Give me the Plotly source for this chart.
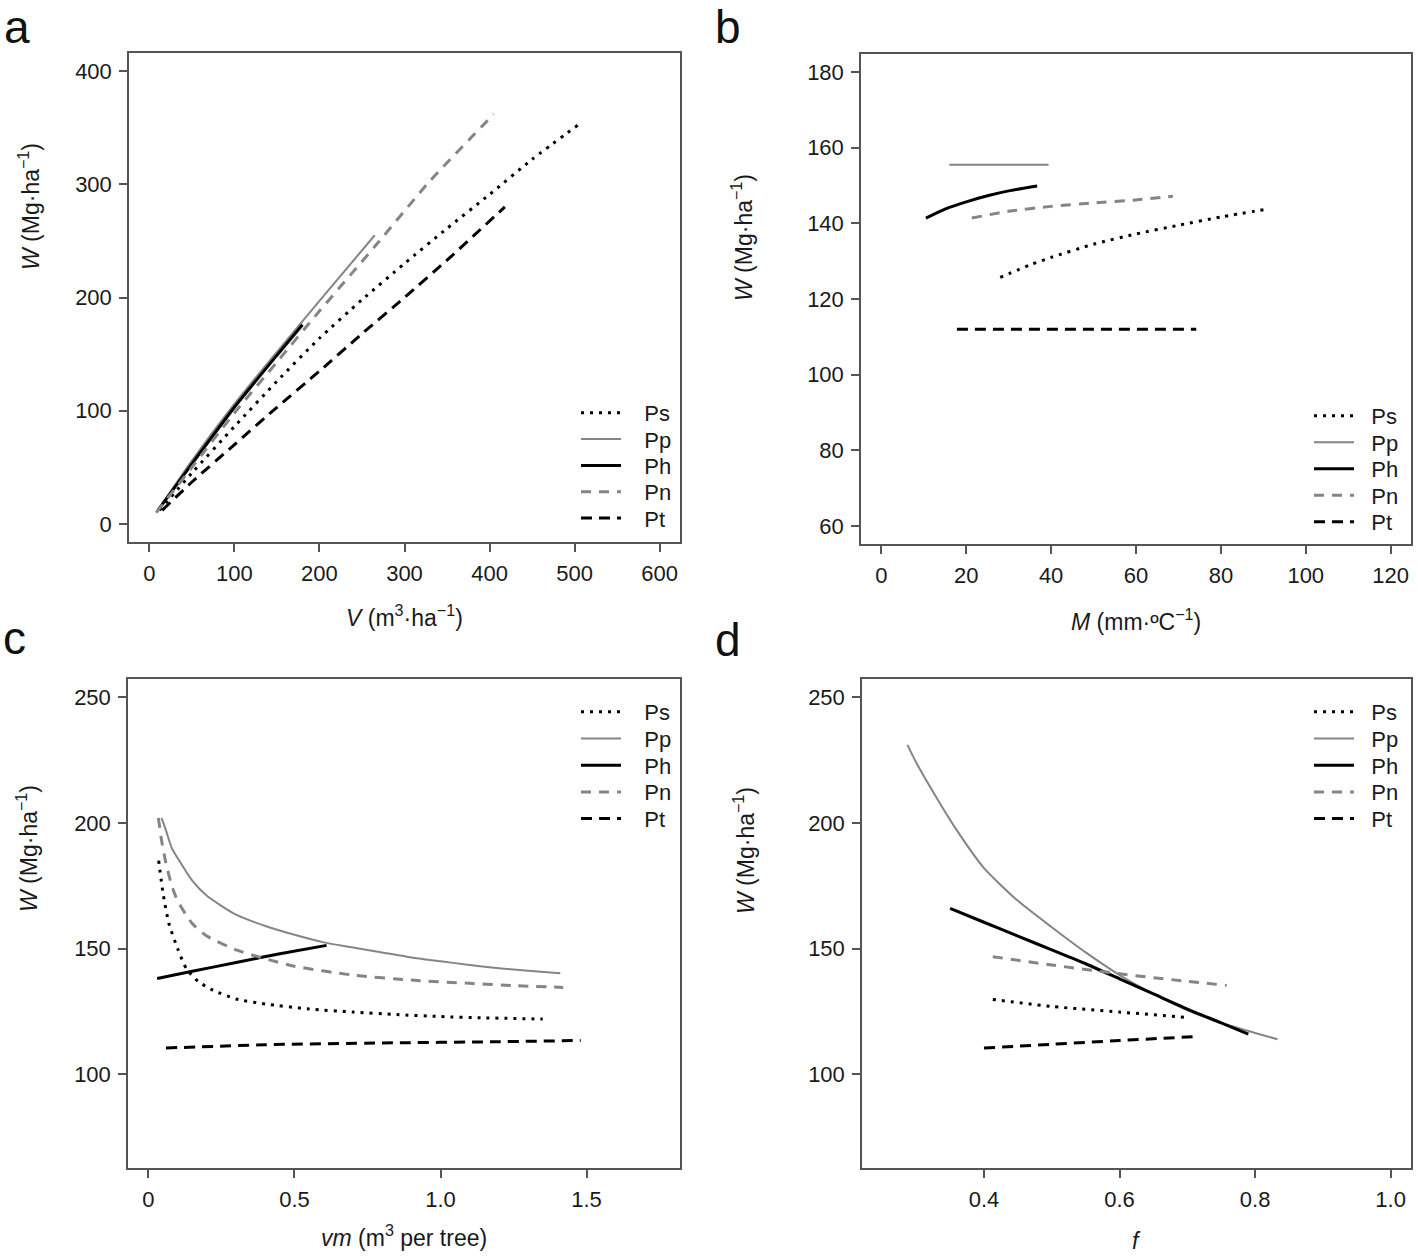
import plotly.graph_objects as go

W, H = 1418, 1259
FONT = "Liberation Sans, Arial, Helvetica, sans-serif"
GRAY = "#858585"
BLACK = "#000000"
TXT = "#1a1a1a"

series_names = ["Ps", "Pp", "Ph", "Pn", "Pt"]

# ---------------- Panel a : W vs V ----------------
a_Ps_x = [12, 50, 100, 150, 200, 250, 300, 350, 400, 450, 507]
a_Ps_y = [12, 45, 86, 126, 164, 198, 230, 261, 291, 322, 354]
a_Pp_x = [8, 50, 100, 150, 200, 265]
a_Pp_y = [10, 56, 106, 152, 197, 255]
a_Ph_x = [10, 50, 100, 150, 180]
a_Ph_y = [12, 53, 103, 149, 176]
a_Pn_x = [8, 50, 100, 150, 200, 265, 330, 405]
a_Pn_y = [10, 50, 98, 143, 188, 245, 303, 362]
a_Pt_x = [15, 50, 100, 150, 200, 250, 300, 350, 418]
a_Pt_y = [12, 37, 70, 103, 135, 168, 200, 233, 280]

# ---------------- Panel b : W vs M ----------------
b_Ps_x = [28, 35, 40, 50, 60, 70, 80, 91.5]
b_Ps_y = [125.7, 129.0, 131.0, 134.5, 137.2, 139.5, 141.7, 143.9]
b_Pp_x = [16.0, 39.4]
b_Pp_y = [155.5, 155.5]
b_Ph_x = [10.5, 15, 20, 25, 30, 36.7]
b_Ph_y = [141.4, 143.8, 145.7, 147.3, 148.6, 149.9]
b_Pn_x = [21.3, 30, 40, 50, 60, 68.7]
b_Pn_y = [141.4, 143.2, 144.5, 145.4, 146.2, 147.2]
b_Pt_x = [17.8, 74.2]
b_Pt_y = [112.0, 112.0]

# ---------------- Panel c : W vs vm ----------------
c_Ps_x = [0.035, 0.05, 0.07, 0.10, 0.13, 0.17, 0.22, 0.30, 0.40, 0.55, 0.70, 0.85, 1.00, 1.15, 1.35]
c_Ps_y = [185, 172, 160, 150, 142, 137, 133.5, 130, 128, 126, 124.8, 123.8, 123, 122.5, 122]
c_Pp_x = [0.045, 0.06, 0.08, 0.10, 0.15, 0.20, 0.30, 0.40, 0.50, 0.60, 0.70, 0.80, 0.90, 1.00, 1.10, 1.20, 1.30, 1.41]
c_Pp_y = [202, 197, 190, 186, 177, 171, 163.5, 159, 155.5, 152.5, 150.5, 148.5, 146.5, 145, 143.5, 142.2, 141.2, 140.2]
c_Ph_x = [0.03, 0.15, 0.30, 0.45, 0.61]
c_Ph_y = [138.1, 141.0, 144.5, 148.0, 151.3]
c_Pn_x = [0.034, 0.045, 0.06, 0.08, 0.10, 0.15, 0.20, 0.30, 0.40, 0.50, 0.70, 0.90, 1.10, 1.25, 1.42]
c_Pn_y = [202, 193, 184, 175, 169, 160, 155, 149.5, 146, 143, 139.5, 137.5, 136.2, 135.3, 134.6]
c_Pt_x = [0.06, 0.40, 0.80, 1.20, 1.48]
c_Pt_y = [110.5, 111.8, 112.5, 113.0, 113.5]

# ---------------- Panel d : W vs f ----------------
d_Ps_x = [0.413, 0.50, 0.60, 0.698]
d_Ps_y = [129.8, 127.0, 124.8, 122.7]
d_Pp_x = [0.287, 0.30, 0.33, 0.36, 0.40, 0.45, 0.50, 0.55, 0.60, 0.65, 0.70, 0.75, 0.80, 0.833]
d_Pp_y = [231, 224, 210, 197, 182, 169, 158.5, 148.5, 139.5, 132, 125.5, 120.5, 116.5, 114]
d_Ph_x = [0.35, 0.40, 0.45, 0.50, 0.55, 0.60, 0.65, 0.70, 0.75, 0.79]
d_Ph_y = [166, 160.5, 155, 149.5, 144, 138, 132, 126, 120.5, 116]
d_Pn_x = [0.413, 0.50, 0.60, 0.70, 0.758]
d_Pn_y = [146.8, 143.5, 140.0, 137.0, 135.4]
d_Pt_x = [0.40, 0.50, 0.60, 0.712]
d_Pt_y = [110.5, 112.0, 113.5, 115.0]

# tick labels
a_xticks = [0, 100, 200, 300, 400, 500, 600]
a_yticks = [0, 100, 200, 300, 400]
b_xticks = [0, 20, 40, 60, 80, 100, 120]
b_yticks = [60, 80, 100, 120, 140, 160, 180]
c_xticks = [0, 0.5, 1.0, 1.5]
c_xlabels = ["0", "0.5", "1.0", "1.5"]
cd_yticks = [100, 150, 200, 250]
d_xticks = [0.4, 0.6, 0.8, 1.0]
d_xlabels = ["0.4", "0.6", "0.8", "1.0"]

panels = {
    "a": [(a_Ps_x, a_Ps_y), (a_Pp_x, a_Pp_y), (a_Ph_x, a_Ph_y), (a_Pn_x, a_Pn_y), (a_Pt_x, a_Pt_y)],
    "b": [(b_Ps_x, b_Ps_y), (b_Pp_x, b_Pp_y), (b_Ph_x, b_Ph_y), (b_Pn_x, b_Pn_y), (b_Pt_x, b_Pt_y)],
    "c": [(c_Ps_x, c_Ps_y), (c_Pp_x, c_Pp_y), (c_Ph_x, c_Ph_y), (c_Pn_x, c_Pn_y), (c_Pt_x, c_Pt_y)],
    "d": [(d_Ps_x, d_Ps_y), (d_Pp_x, d_Pp_y), (d_Ph_x, d_Ph_y), (d_Pn_x, d_Pn_y), (d_Pt_x, d_Pt_y)],
}

styles = {
    "Ps": dict(color=BLACK, width=3, dash="3px,6px"),
    "Pp": dict(color=GRAY, width=2),
    "Ph": dict(color=BLACK, width=3),
    "Pn": dict(color=GRAY, width=3, dash="10px,8px"),
    "Pt": dict(color=BLACK, width=3, dash="11px,7px"),
}

# pixel boxes (left, right, top, bottom)
boxes = {
    "a": (129, 680, 53, 542),
    "b": (861, 1411, 54, 544),
    "c": (128, 680, 679, 1168),
    "d": (862, 1411, 679, 1168),
}
axis_ids = {"a": "", "b": "2", "c": "3", "d": "4"}

# legend layout per panel: (legend x, first item centre y, item step, nbsp padding)
legend_geo = {
    "a": (576, 413, 26.3, 3),
    "b": (1309, 416, 26.5, 2),
    "c": (576, 712, 26.7, 3),
    "d": (1309, 712, 26.7, 2),
}

x_ranges = {"a": [-24, 624], "b": [-4.8, 124.8], "c": [-0.07, 1.82], "d": [0.22, 1.03]}
y_ranges = {"a": [-16, 416], "b": [55.2, 184.8], "c": [62.8, 257.2], "d": [62.8, 257.2]}
x_ticks = {
    "a": (a_xticks, [str(v) for v in a_xticks]),
    "b": (b_xticks, [str(v) for v in b_xticks]),
    "c": (c_xticks, c_xlabels),
    "d": (d_xticks, d_xlabels),
}
y_ticks = {
    "a": (a_yticks, [str(v) for v in a_yticks]),
    "b": (b_yticks, [str(v) for v in b_yticks]),
    "c": (cd_yticks, [str(v) for v in cd_yticks]),
    "d": (cd_yticks, [str(v) for v in cd_yticks]),
}
x_titles = {
    "a": "<i>V</i> (m<sup>3</sup>·ha<sup>−1</sup>)",
    "b": "<i>M</i> (mm·ºC<sup>−1</sup>)",
    "c": "<i>vm</i> (m<sup>3</sup> per tree)",
    "d": "<i>f</i>",
}
x_title_y = {"a": 616, "b": 620, "c": 1236, "d": 1241}
y_title = "<i>W</i> (Mg·ha<sup>−1</sup>)"
y_title_pos = {"a": (29, 207), "b": (742, 238), "c": (27, 849), "d": (744, 851)}

fig = go.Figure()
legend_layouts = {}
k = 0
for p, data in panels.items():
    ax = axis_ids[p]
    lx, ly0, step, pad = legend_geo[p]
    for i, (name, (xs, ys)) in enumerate(zip(series_names, data)):
        k += 1
        lid = "legend" if k == 1 else f"legend{k}"
        fig.add_trace(go.Scatter(
            x=xs, y=ys, mode="lines", name="\u00a0" * pad + name,
            line=dict(**styles[name], shape="spline", smoothing=0.6),
            xaxis="x" + ax, yaxis="y" + ax,
            legend=lid, showlegend=True,
        ))
        legend_layouts[lid] = dict(
            x=lx / W, y=1 - (ly0 + i * step) / H, xanchor="left", yanchor="middle",
            xref="paper", yref="paper", bgcolor="rgba(0,0,0,0)", borderwidth=0,
            font=dict(family=FONT, size=22, color=TXT), itemwidth=40)

tickfont = dict(family=FONT, size=22, color=TXT)
axis_common = dict(showgrid=False, zeroline=False, showline=True, mirror=True,
                   linecolor="#555555", linewidth=1.5, ticks="outside", ticklen=8,
                   tickwidth=1.5, tickcolor="#555555", tickfont=tickfont, fixedrange=True)

layout = dict(width=W, height=H, margin=dict(l=0, r=0, t=0, b=0),
              paper_bgcolor="white", plot_bgcolor="white", showlegend=True,
              font=dict(family=FONT, size=22, color=TXT))
layout.update(legend_layouts)
annotations = []

for p, (l, r, t, b) in boxes.items():
    ax = axis_ids[p]
    layout["xaxis" + ax] = dict(axis_common, domain=[l / W, r / W], range=x_ranges[p],
                                tickvals=x_ticks[p][0], ticktext=x_ticks[p][1],
                                anchor="y" + ax, ticklabelstandoff=3)
    layout["yaxis" + ax] = dict(axis_common, domain=[1 - b / H, 1 - t / H], range=y_ranges[p],
                                tickvals=y_ticks[p][0], ticktext=y_ticks[p][1],
                                anchor="x" + ax, ticklabelstandoff=3)
    annotations.append(dict(text=x_titles[p], x=(l + r) / 2 / W, y=1 - x_title_y[p] / H,
                            xref="paper", yref="paper", xanchor="center", yanchor="middle",
                            showarrow=False, font=dict(family=FONT, size=23, color=TXT)))
    tx, ty = y_title_pos[p]
    annotations.append(dict(text=y_title, x=tx / W, y=1 - ty / H,
                            xref="paper", yref="paper", xanchor="center", yanchor="middle",
                            textangle=-90, showarrow=False,
                            font=dict(family=FONT, size=23, color=TXT)))

letter_pos = {"a": (3, 0), "b": (714, 0), "c": (2, 611), "d": (714, 613)}
for p, (px, py) in letter_pos.items():
    annotations.append(dict(text=p, x=px / W, y=1 - py / H, xref="paper", yref="paper",
                            xanchor="left", yanchor="top", showarrow=False, borderpad=0,
                            font=dict(family=FONT, size=46, color="#111111")))

layout["annotations"] = annotations
fig.update_layout(**layout)
fig.write_html("out.html", config={"displayModeBar": False},
               post_script="document.body.style.margin='0px';")
